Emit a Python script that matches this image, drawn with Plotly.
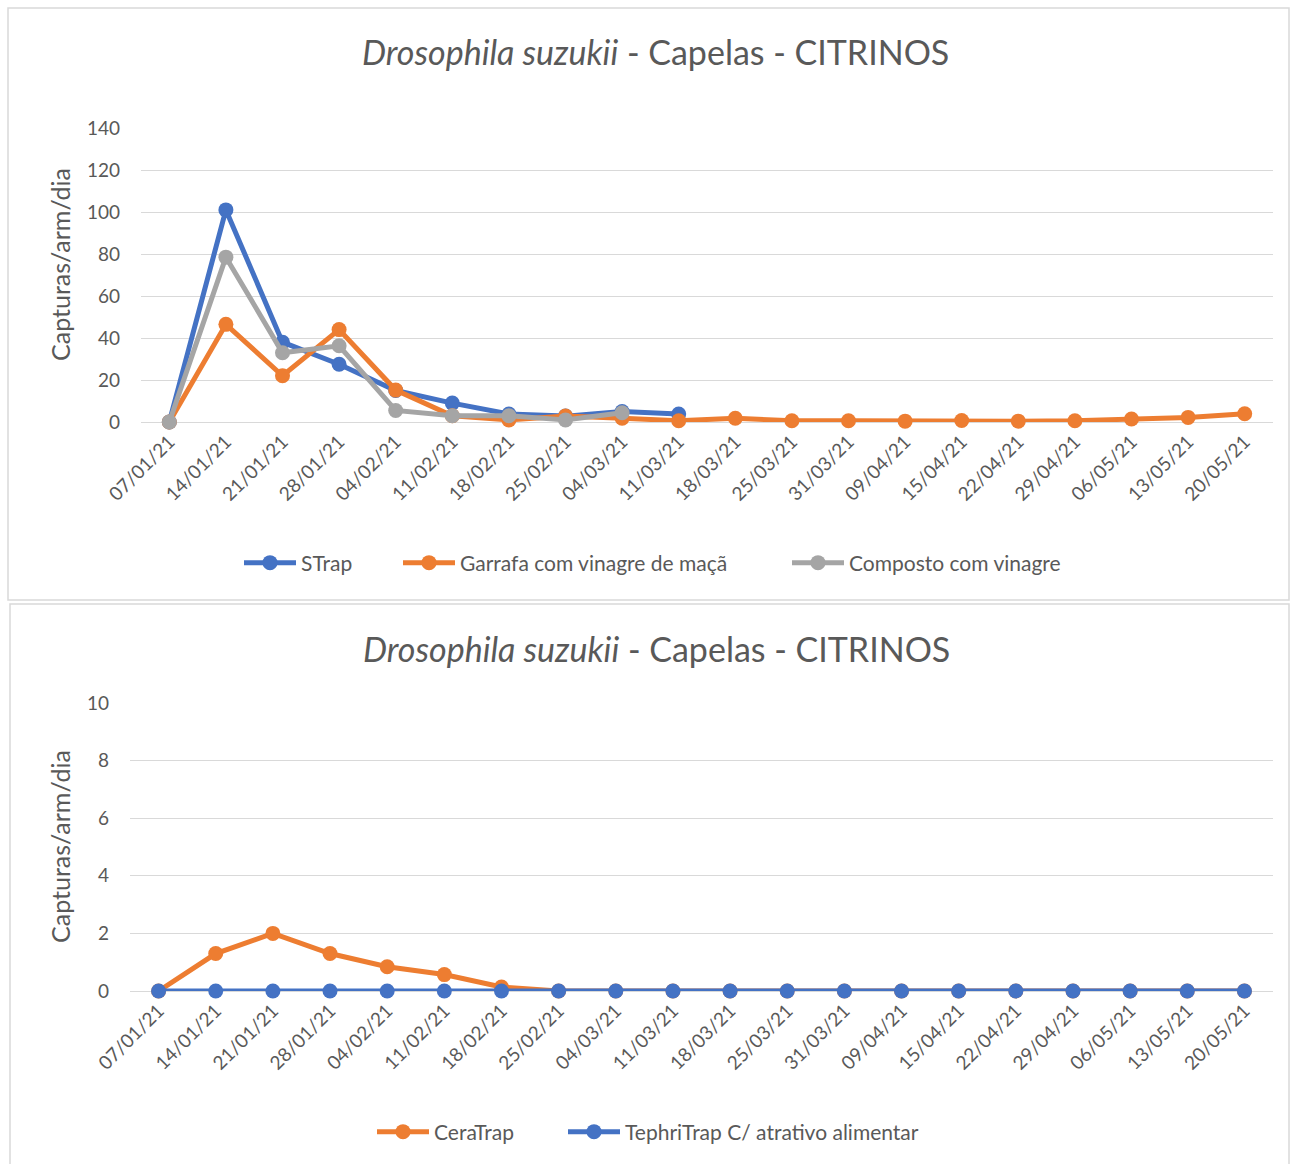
import plotly.graph_objects as go

dates = ["07/01/21", "14/01/21", "21/01/21", "28/01/21", "04/02/21", "11/02/21", "18/02/21",
         "25/02/21", "04/03/21", "11/03/21", "18/03/21", "25/03/21", "31/03/21", "09/04/21",
         "15/04/21", "22/04/21", "29/04/21", "06/05/21", "13/05/21", "20/05/21"]

strap = [0, 101, 38, 27.5, 15, 9, 3.8, 2.8, 5, 3.8] + [None] * 10
garrafa = [0, 46.5, 22, 44, 15.2, 3, 1, 2.8, 1.8, 0.6, 1.8, 0.6, 0.6, 0.4, 0.7, 0.4, 0.6, 1.4, 2.2, 3.9]
composto = [0, 78.5, 33, 36.3, 5.5, 3, 3, 1, 4.4] + [None] * 11

ceratrap = [0, 1.3, 2.0, 1.3, 0.84, 0.57, 0.14, 0, 0, 0, 0, 0, 0, 0, 0, 0, 0, 0, 0, 0]
tephritrap = [0] * 20

W, H = 1291, 1164
BLUE, ORANGE, GRAY = "#4472C4", "#ED7D31", "#A5A5A5"
FONT = "Lato, Open Sans, sans-serif"
TXT = "#595959"
GRID = "#D9D9D9"


def px(x):
    return x / W


def py(y):
    return 1 - y / H


fig = go.Figure()


def add(name, y, color, xa, ya, legend):
    fig.add_trace(go.Scatter(
        x=dates, y=y, name=name, mode="lines+markers",
        line=dict(color=color, width=5),
        marker=dict(color=color, size=15),
        xaxis=xa, yaxis=ya, legend=legend, cliponaxis=False, showlegend=True,
    ))


add("STrap", strap, BLUE, "x", "y", "legend")
add("Garrafa com vinagre de maçã", garrafa, ORANGE, "x", "y", "legend2")
add("Composto com vinagre", composto, GRAY, "x", "y", "legend3")
add("CeraTrap", ceratrap, ORANGE, "x2", "y2", "legend4")
add("TephriTrap C/ atrativo alimentar", tephritrap, BLUE, "x2", "y2", "legend5")

xcommon = dict(type="category", tickangle=-45, showgrid=False, showline=True,
               linecolor=GRID, linewidth=1.3, ticks="", zeroline=False, layer="below traces",
               tickfont=dict(family=FONT, size=19, color=TXT), range=[-0.5, 19.5],
               automargin=False)
ycommon = dict(showgrid=True, gridcolor=GRID, gridwidth=1.3, zeroline=False, showline=False,
               ticks="", tickfont=dict(family=FONT, size=19, color=TXT), automargin=False,
               ticklabelstandoff=20, layer="below traces")

legfont = dict(family=FONT, size=21, color=TXT)


def leg(xpix, ypix):
    return dict(orientation="h", x=px(xpix), xanchor="left", y=py(ypix), yanchor="middle",
                font=legfont, itemwidth=52, bgcolor="rgba(0,0,0,0)", visible=True)


fig.update_layout(
    width=W, height=H,
    showlegend=True,
    margin=dict(l=0, r=0, t=0, b=0),
    paper_bgcolor="white", plot_bgcolor="white",
    xaxis=dict(domain=[px(141), px(1273)], anchor="y", **xcommon),
    yaxis=dict(domain=[py(422), py(128)], anchor="x", range=[0, 140], dtick=20, **ycommon),
    xaxis2=dict(domain=[px(130), px(1273)], anchor="y2", **xcommon),
    yaxis2=dict(domain=[py(991), py(703)], anchor="x2", range=[0, 10], dtick=2, **ycommon),
    legend=leg(239, 563),
    legend2=leg(398, 563),
    legend3=leg(787, 563),
    legend4=leg(372, 1132),
    legend5=leg(563, 1132),
    shapes=[
        dict(type="rect", xref="paper", yref="paper", x0=px(8), x1=px(1289), y0=py(600), y1=py(8),
             line=dict(color=GRID, width=1.5), layer="below"),
        dict(type="rect", xref="paper", yref="paper", x0=px(10), x1=px(1289), y0=py(1175), y1=py(604),
             line=dict(color=GRID, width=1.5), layer="below"),
    ],
    annotations=[
        dict(text="<i>Drosophila suzukii</i> - Capelas - CITRINOS", xref="paper", yref="paper",
             x=px(655), y=py(52), xanchor="center", yanchor="middle", showarrow=False,
             font=dict(family=FONT, size=34, color=TXT)),
        dict(text="<i>Drosophila suzukii</i> - Capelas - CITRINOS", xref="paper", yref="paper",
             x=px(656), y=py(648), xanchor="center", yanchor="middle", showarrow=False,
             font=dict(family=FONT, size=34, color=TXT)),
        dict(text="Capturas/arm/dia", xref="paper", yref="paper", x=px(60), y=py(265),
             xanchor="center", yanchor="middle", textangle=-90, showarrow=False,
             font=dict(family=FONT, size=25, color=TXT)),
        dict(text="Capturas/arm/dia", xref="paper", yref="paper", x=px(60), y=py(847),
             xanchor="center", yanchor="middle", textangle=-90, showarrow=False,
             font=dict(family=FONT, size=25, color=TXT)),
    ],
)

fig.write_html("out.html", config={"displayModeBar": False},
               post_script="document.body.style.margin='0';document.body.style.overflow='hidden';")
